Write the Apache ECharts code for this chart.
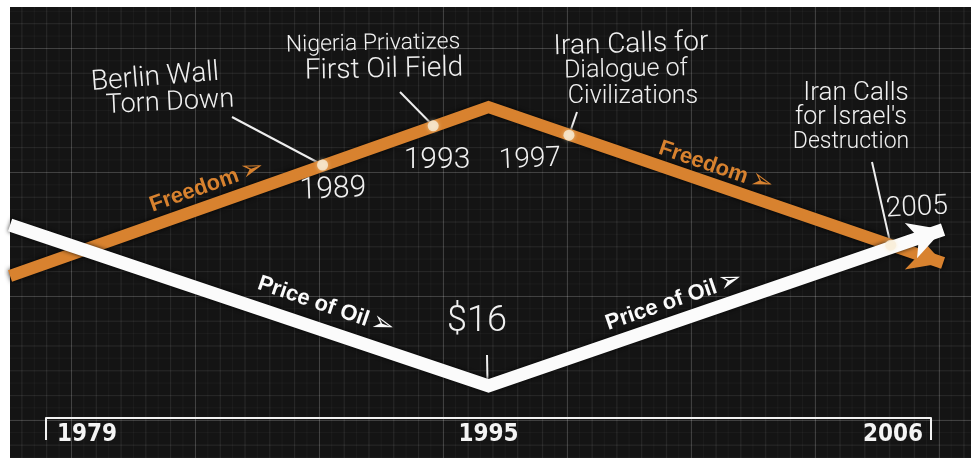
<!DOCTYPE html>
<html>
<head>
<meta charset="utf-8">
<script src="https://cdn.jsdelivr.net/npm/echarts@6/dist/echarts.min.js"></script>
<style>
  html, body { margin:0; padding:0; background:#ffffff; }
  #wrap { position:relative; width:971px; height:458px; background:#ffffff; overflow:hidden; }
  #bg {
    position:absolute; left:10px; top:7px; width:961px; height:451px;
    background-color:#141414;
    background-image:
      linear-gradient(to right, rgba(255,255,255,0.12) 1px, transparent 1px),
      linear-gradient(to bottom, rgba(255,255,255,0.12) 1px, transparent 1px),
      linear-gradient(to right, rgba(255,255,255,0.06) 1px, transparent 1px),
      linear-gradient(to bottom, rgba(255,255,255,0.06) 1px, transparent 1px),
      linear-gradient(to right, rgba(255,255,255,0.03) 1px, transparent 1px),
      linear-gradient(to bottom, rgba(255,255,255,0.03) 1px, transparent 1px);
    background-size:124px 124px, 124px 124px, 24.8px 24.8px, 24.8px 24.8px, 12.4px 12.4px, 12.4px 12.4px;
    background-position:61px 0, 0 41px, 61px 0, 0 41px, 61px 0, 0 41px;
  }
  #chart { position:absolute; left:0; top:0; width:971px; height:458px; }
</style>
</head>
<body>
<div id="wrap"><div id="bg"></div><div id="chart"></div></div>
<script>
// ---- data ----
const axisYears = [1979, 1995, 2006];
const freedomYears = [1977.7, 1995, 2006.3];
const freedomIndex = [35.5, 77.75, 38.75];
const oilYears = [1977.7, 1995, 2006.3];
const oilIndex = [48.25, 8, 47.1];
const eventYears = [1989, 1993, 1997, 2005];
const eventIndex = [63.25, 73.05, 70.7, 43.2];
const eventNotes = [
  ['Berlin Wall', 'Torn Down'],
  ['Nigeria Privatizes', 'First Oil Field'],
  ['Iran Calls for', 'Dialogue of', 'Civilizations'],
  ['Iran Calls', "for Israel's", 'Destruction']
];
const oilLowLabel = '$16';
const seriesNames = ['Freedom', 'Price of Oil'];

// timeline position: the drawing stretches 1979-1995 and 1995-2006 over equal halves
function pos(year) { return year <= 1995 ? (year - 1979) / 16 : 1 + (year - 1995) / 11; }

const ORANGE = '#d8822f';
const WHITE = '#fbfbfb';
const HAND = 'Roboto, "DejaVu Sans", sans-serif';
const AXISFONT = '"Liberation Sans Narrow", "DejaVu Sans Condensed", sans-serif';

const chart = echarts.init(document.getElementById('chart'), null, { renderer: 'canvas' });

const lastF = freedomYears.length - 1;
const lastO = oilYears.length - 1;
const xMin = pos(freedomYears[0]);
const xMax = pos(freedomYears[lastF]);
// axis bracket grid: 46..931 px for 0..2
const PPU = (931 - 46) / 2;
const dataLeft = 46 + xMin * PPU;
const dataRight = 971 - (46 + xMax * PPU);

const option = {
  animation: false,
  backgroundColor: 'transparent',
  grid: [
    { left: dataLeft, right: dataRight, top: 18, bottom: 40 },
    { left: 46, right: 40, top: 18, bottom: 40 }
  ],
  xAxis: [
    { type: 'value', gridIndex: 0, min: xMin, max: xMax, show: false },
    {
      type: 'value', gridIndex: 1, min: 0, max: 2, interval: 1,
      axisLine: { show: true, lineStyle: { color: '#f2f2f2', width: 2 } },
      axisTick: { show: true, customValues: [0, 2], length: 22, lineStyle: { color: '#f2f2f2', width: 2 } },
      splitLine: { show: false },
      axisLabel: {
        customValues: [0, 1, 2],
        margin: 5,
        alignMinLabel: 'left',
        alignMaxLabel: 'right',
        formatter: function (v) {
          const i = Math.round(v);
          const k = i === 0 ? 'l' : (i === 2 ? 'r' : 'c');
          return '{' + k + '|' + axisYears[i] + '}';
        },
        rich: {
          l: { color: '#f4f4f4', fontFamily: AXISFONT, fontWeight: 'bold', fontSize: 24, padding: [0, 0, 0, 11] },
          c: { color: '#f4f4f4', fontFamily: AXISFONT, fontWeight: 'bold', fontSize: 24 },
          r: { color: '#f4f4f4', fontFamily: AXISFONT, fontWeight: 'bold', fontSize: 24, padding: [0, 8, 0, 0] }
        }
      }
    }
  ],
  yAxis: [
    { type: 'value', gridIndex: 0, min: 0, max: 100, show: false },
    { type: 'value', gridIndex: 1, min: 0, max: 100, show: false }
  ],
  series: [
    {
      name: seriesNames[0], type: 'line', clip: false, z: 2, xAxisIndex: 0, yAxisIndex: 0,
      showSymbol: true,
      data: freedomYears.map((y, i) => ({
        value: [pos(y), freedomIndex[i]],
        symbol: i === lastF ? 'arrow' : 'none',
        symbolSize: [28, 34],
        symbolRotate: -109
      })),
      lineStyle: { color: ORANGE, width: 12, join: 'miter', shadowColor: 'rgba(0,0,0,0.9)', shadowBlur: 5 },
      itemStyle: { color: ORANGE }
    },
    {
      name: seriesNames[1], type: 'line', clip: false, z: 3, xAxisIndex: 0, yAxisIndex: 0,
      showSymbol: true,
      data: oilYears.map((y, i) => ({
        value: [pos(y), oilIndex[i]],
        symbol: i === lastO ? 'arrow' : 'none',
        symbolSize: [28, 34],
        symbolRotate: -71
      })),
      lineStyle: { color: WHITE, width: 13, join: 'miter', shadowColor: 'rgba(0,0,0,0.8)', shadowBlur: 4 },
      itemStyle: { color: WHITE }
    },
    {
      type: 'scatter', z: 5, xAxisIndex: 0, yAxisIndex: 0,
      data: eventYears.map((y, i) => [pos(y), eventIndex[i]]),
      symbolSize: 11,
      itemStyle: { color: '#f7eed9', shadowColor: 'rgba(255,235,190,0.7)', shadowBlur: 4 }
    }
  ]
};
chart.setOption(option);

// ---- annotations ----
function px(x, y) { return chart.convertToPixel({ gridIndex: 0 }, [x, y]); }
const dots = eventYears.map((y, i) => px(pos(y), eventIndex[i]));
const trough = px(pos(oilYears[1]), oilIndex[1]);

const g = [];
function hand(text, x, y, size, rot) {
  g.push({ type: 'text', x: x, y: y, rotation: rot || 0, z: 10,
    style: { text: text, fill: '#f0f0f0', font: '300 ' + size + 'px ' + HAND, textAlign: 'center', textVerticalAlign: 'middle' } });
}
function lead(x1, y1, p) {
  g.push({ type: 'line', z: 1, shape: { x1: x1, y1: y1, x2: p[0], y2: p[1] },
    style: { stroke: '#eeeeee', lineWidth: 2 } });
}

// event notes
hand(eventNotes[0][0], 155, 78, 28, 0.08);
hand(eventNotes[0][1], 170, 103, 27, 0.05);
hand(eventNotes[1][0], 373, 44, 23, 0.02);
hand(eventNotes[1][1], 384, 70, 28, 0.02);
hand(eventNotes[2][0], 631, 45, 28, 0.03);
hand(eventNotes[2][1], 626, 70, 25, 0.02);
hand(eventNotes[2][2], 633, 97, 25, 0.0);
hand(eventNotes[3][0], 856, 93, 26, 0.0);
hand(eventNotes[3][1], 851, 118, 25, 0.0);
hand(eventNotes[3][2], 851, 142, 23, 0.0);

// event year labels
hand(String(eventYears[0]), 333, 190, 30, 0.04);
hand(String(eventYears[1]), 437, 160, 30, 0.0);
hand(String(eventYears[2]), 530, 160, 28, 0.04);
hand(String(eventYears[3]), 917, 208, 28, 0.05);
hand(oilLowLabel, 477, 322, 36, 0);

// leader lines
lead(232, 117, dots[0]);
lead(400, 92, dots[1]);
lead(577, 112, dots[2]);
lead(872, 162, dots[3]);
lead(487, 355, [trough[0] - 1, trough[1] - 4]);

// series labels along the lines
function tag(name, x, y, rot, color) {
  g.push({ type: 'text', x: x, y: y, rotation: rot, z: 10,
    style: {
      text: '{a|' + name + '} {b|➢}',
      textAlign: 'center', textVerticalAlign: 'middle',
      rich: {
        a: { fill: color, font: 'bold 22px "Liberation Sans", Arial, sans-serif' },
        b: { fill: color, font: '28px "DejaVu Sans", sans-serif' }
      }
    } });
}
tag(seriesNames[0], 207, 186, 0.34, ORANGE);
tag(seriesNames[0], 716, 167, -0.33, ORANGE);
tag(seriesNames[1], 326, 306, -0.33, WHITE);
tag(seriesNames[1], 674, 301, 0.33, WHITE);

chart.setOption({ graphic: g });
</script>
</body>
</html>
